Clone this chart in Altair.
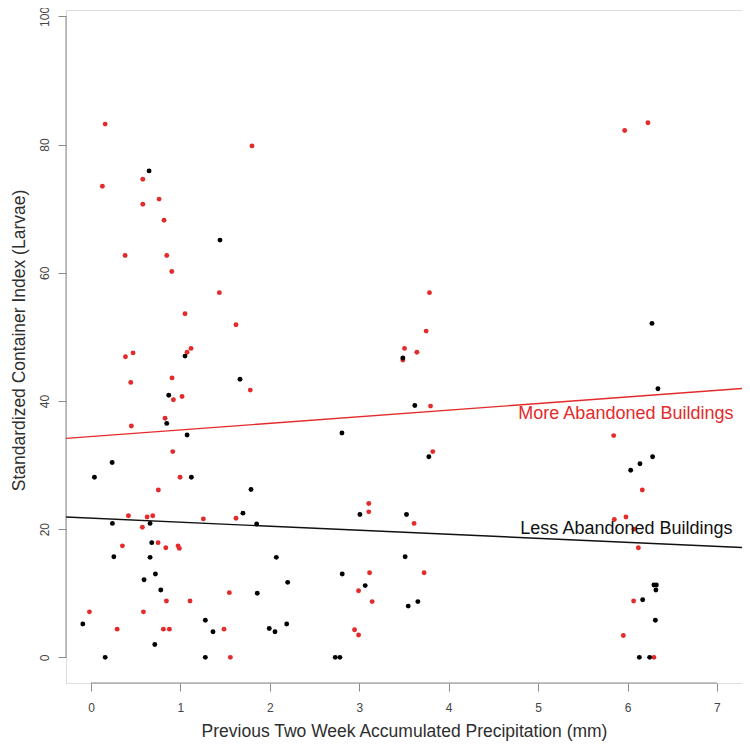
import altair as alt
import pandas as pd

# ---- data ----
red_x = [0.158, 1.80, 0.579, 0.127, 0.761, 0.579, 0.817, 0.381, 0.847, 0.903,
         1.435, 1.051, 1.621, 0.385, 0.470, 1.074, 1.118, 0.444, 0.906, 1.018,
         0.921, 1.781, 0.828, 0.451, 0.914, 0.996, 0.753, 0.418, 0.627, 0.690,
         1.256, 1.621, 0.574, 0.750, 0.351, 0.836, 0.973, 0.988, 0.843, 1.107,
         1.547, -0.018, 0.586, 0.292, 0.809, 0.876, 1.487, 1.558,
         3.785, 3.748, 3.506, 3.644, 3.487, 3.797, 3.822, 3.106, 3.106, 3.613,
         3.115, 3.725, 2.992, 3.144, 2.947, 2.992,
         6.228, 5.968, 5.845, 6.165, 5.852, 5.982, 6.072, 6.121, 6.068, 5.953, 6.295]
red_y = [83.2, 79.8, 74.6, 73.5, 71.5, 70.7, 68.2, 62.7, 62.7, 60.2,
         56.9, 53.6, 51.9, 46.9, 47.5, 47.6, 48.2, 42.9, 43.6, 40.7,
         40.2, 41.7, 37.3, 36.1, 32.1, 28.1, 26.1, 22.1, 21.9, 22.1,
         21.6, 21.7, 20.3, 17.9, 17.4, 17.1, 17.4, 17.0, 8.8, 8.8,
         10.1, 7.1, 7.1, 4.4, 4.4, 4.4, 4.4, 0.0,
         56.9, 50.9, 48.2, 47.6, 46.4, 39.2, 32.1, 24.0, 22.7, 20.9,
         13.2, 13.2, 10.4, 8.7, 4.3, 3.5,
         83.4, 82.2, 34.6, 26.1, 21.5, 21.9, 20.0, 17.1, 8.8, 3.4, 0.0]

black_x = [0.649, 1.442, 1.051, 1.666, 0.869, 0.847, 1.074, 0.236, 0.038, 1.122,
           1.789, 1.699, 0.239, 0.660, 1.852, 0.679, 0.255, 0.660, 2.072, 0.720,
           0.593, 2.199, 0.780, 1.859, -0.092, 1.278, 1.364, 1.993, 2.057, 2.188,
           0.713, 0.158, 1.278,
           3.487, 3.621, 2.806, 3.778, 3.007, 3.528, 3.513, 2.809, 3.066, 3.655,
           3.547, 2.731, 2.783,
           6.273, 6.340, 6.280, 6.139, 6.035, 6.295, 6.322, 6.317, 6.169, 6.311,
           6.132, 6.247]
black_y = [75.9, 65.1, 47.0, 43.4, 40.9, 36.5, 34.7, 30.4, 28.1, 28.1,
           26.2, 22.5, 20.9, 20.9, 20.8, 17.9, 15.7, 15.6, 15.6, 13.0,
           12.1, 11.7, 10.5, 10.0, 5.2, 5.8, 4.0, 4.5, 4.0, 5.2,
           2.0, 0.0, 0.0,
           46.7, 39.3, 35.0, 31.3, 22.3, 22.3, 15.7, 13.0, 11.2, 8.7,
           8.0, 0.0, 0.0,
           52.1, 41.9, 31.3, 30.2, 29.2, 11.3, 11.3, 10.5, 9.0, 5.8,
           0.0, 0.0]

# fitted lines (end points)
line_x = [-0.28, 7.28]
red_line_y = [34.16, 41.95]
black_line_y = [21.90, 17.13]

label_text = ["More Abandoned Buildings", "Less Abandoned Buildings"]
label_x = [7.185, 7.174]
label_y = [37.15, 19.2]

x_ticks = [0, 1, 2, 3, 4, 5, 6, 7]
y_ticks = [0, 20, 40, 60, 80, 100]

RED = "#e32b2b"
BLACK = "#000000"
AXIS_GRAY = "#8a8a8a"
LABEL_GRAY = "#444444"
TITLE_GRAY = "#2e2e2e"
FONT = "Liberation Sans, Arial, Helvetica, sans-serif"

W, H = 676, 673

xs = alt.Scale(domain=[-0.28, 7.28], nice=False, zero=False)
ys = alt.Scale(domain=[-4, 101.0], nice=False, zero=False)

xaxis = alt.Axis(
    values=x_ticks, title="Previous Two Week Accumulated Precipitation (mm)",
    domain=False, grid=False, tickSize=8, tickColor=AXIS_GRAY, tickWidth=1,
    labelFont=FONT, labelFontSize=12, labelColor=LABEL_GRAY,
    labelBaseline="middle", labelPadding=16, labelFlush=False,
    titleFont=FONT, titleFontSize=17.5, titleFontWeight="normal",
    titleColor=TITLE_GRAY, titleBaseline="alphabetic", titleY=53,
)
yaxis = alt.Axis(
    values=y_ticks, title="Standardized Container Index (Larvae)",
    domain=False, grid=False, tickSize=8, tickColor=AXIS_GRAY, tickWidth=1,
    labelFont=FONT, labelFontSize=12, labelColor=LABEL_GRAY,
    labelAngle=270, labelAlign="center", labelBaseline="middle",
    labelPadding=14, labelFlush=False,
    titleFont=FONT, titleFontSize=17.5, titleFontWeight="normal",
    titleColor=TITLE_GRAY, titleAngle=270, titleAlign="center",
    titleBaseline="middle", titleX=-47, titleY=330,
)

X = alt.X("x:Q", scale=xs, axis=xaxis)
Y = alt.Y("y:Q", scale=ys, axis=yaxis)

red_df = pd.DataFrame({"x": red_x, "y": red_y})
black_df = pd.DataFrame({"x": black_x, "y": black_y})
red_line_df = pd.DataFrame({"x": line_x, "y": red_line_y})
black_line_df = pd.DataFrame({"x": line_x, "y": black_line_y})
lab_df = pd.DataFrame({"x": label_x, "y": label_y, "t": label_text,
                       "c": ["more", "less"]})
xline_df = pd.DataFrame({"x": [x_ticks[0]], "x2": [x_ticks[-1]]})
yline_df = pd.DataFrame({"y": [y_ticks[0]], "y2": [y_ticks[-1]]})

red_pts = alt.Chart(red_df).mark_circle(size=24, color=RED, opacity=1).encode(x=X, y=Y)
black_pts = alt.Chart(black_df).mark_circle(size=24, color=BLACK, opacity=1).encode(x=X, y=Y)

red_line = alt.Chart(red_line_df).mark_line(color=RED, strokeWidth=1.4, clip=True).encode(x=X, y=Y)
black_line = alt.Chart(black_line_df).mark_line(color="#111111", strokeWidth=1.4, clip=True).encode(x=X, y=Y)

labels = alt.Chart(lab_df).mark_text(
    align="right", baseline="alphabetic", font=FONT, fontSize=18
).encode(
    x=X, y=Y, text="t:N",
    color=alt.Color("c:N", scale=alt.Scale(domain=["more", "less"], range=[RED, "#111111"]),
                    legend=None),
)

x_axis_line = alt.Chart(xline_df).mark_rule(color=AXIS_GRAY, strokeWidth=1).encode(
    x=X, x2="x2:Q", y=alt.value(H)
)
y_axis_line = alt.Chart(yline_df).mark_rule(color=AXIS_GRAY, strokeWidth=1).encode(
    y=Y, y2="y2:Q", x=alt.value(0)
)

chart = alt.layer(
    x_axis_line, y_axis_line, red_line, black_line, red_pts, black_pts, labels
).properties(
    width=W, height=H,
    autosize=alt.AutoSizeParams(type="none"),
    padding={"left": 58, "top": 2, "right": 0, "bottom": 58},
).configure_view(stroke=None).configure(background="white")

chart.save("out.html", embed_options={"renderer": "svg", "actions": False})
